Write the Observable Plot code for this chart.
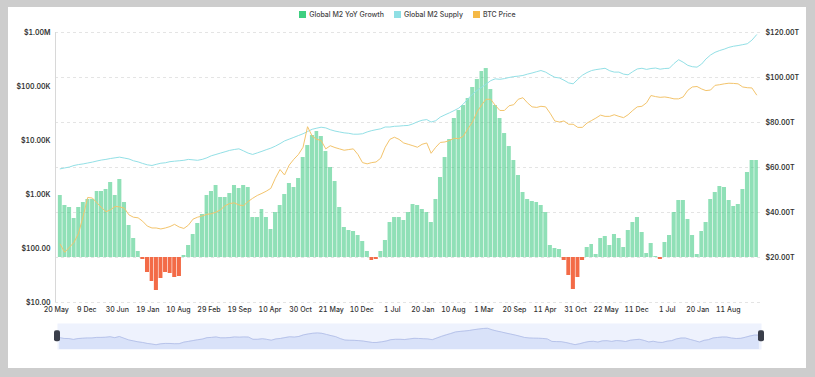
<!DOCTYPE html>
<html><head><meta charset="utf-8">
<script src="https://cdn.jsdelivr.net/npm/d3@7"></script>
<script src="https://cdn.jsdelivr.net/npm/@observablehq/plot@0.6"></script>
<style>
html,body{margin:0;padding:0;background:#cdcdcd;width:815px;height:377px;overflow:hidden;font-family:Inter,"Noto Sans",sans-serif;}
#panel{position:absolute;left:8px;top:7px;width:798px;height:361px;background:#fff;}
#legend{position:absolute;left:0;top:10px;width:815px;display:flex;justify-content:center;gap:10px;font-size:7px;font-weight:500;color:#444;line-height:9px;}
#legend span.item{display:flex;align-items:center;gap:3px;}
#legend i{display:inline-block;width:7px;height:7px;}
#main{position:absolute;left:0;top:0;}
#slider{position:absolute;left:0;top:320px;}
</style></head>
<body>
<div id="panel"></div>
<div id="legend"></div>
<div id="main"></div>
<div id="slider"></div>
<script>
// ---- data (monthly, Jun 2013 .. Feb 2026) ----
const startMonth = "2013-06-01";
const seriesNames = ["Global M2 YoY Growth", "Global M2 Supply", "BTC Price"];
// Global M2 YoY growth (%)
const growth = [
  6.2,5.2,5.0,3.9,5.0,5.5,5.8,5.8,6.6,6.6,
  6.8,7.5,6.2,7.8,5.5,3.2,1.9,0.6,-0.2,-1.5,
  -2.4,-3.3,-2.1,-1.5,-1.6,-2.0,-1.9,0.2,1.2,2.3,
  3.4,4.3,6.2,6.6,7.2,6.0,6.0,6.4,7.2,6.9,
  7.2,7.0,4.0,4.0,4.8,4.0,2.8,4.5,5.2,6.3,
  7.4,7.0,7.9,10.0,11.2,12.2,12.6,12.1,10.6,9.0,
  7.6,5.0,3.0,2.7,2.6,2.2,1.6,0.6,-0.3,-0.2,
  0.6,1.7,3.5,4.0,4.0,3.7,4.5,5.3,5.2,4.8,
  4.5,3.5,5.8,8.0,10.0,11.8,13.9,14.7,15.2,15.9,
  17.0,17.8,18.6,18.9,16.8,15.2,13.9,12.4,11.1,9.7,
  8.2,6.5,5.8,5.6,5.5,5.2,4.5,1.2,0.9,0.8,
  -0.3,-1.8,-3.2,-2.0,-0.3,1.0,1.3,0.3,1.9,2.1,
  1.2,2.3,1.9,1.0,2.7,3.5,4.0,2.5,0.4,1.4,
  0.1,-0.2,1.5,2.2,4.5,5.7,5.7,3.8,2.2,0.3,
  2.6,3.5,5.8,6.5,7.1,7.0,5.7,5.1,5.3,6.8,
  8.5,9.7,9.7
];
// Global M2 supply (trillion USD)
const m2 = [
  59.4,59.8,60.2,60.9,61.3,61.6,62.0,62.4,62.9,63.3,63.6,64.0,64.3,64.6,
  64.2,63.8,63.0,62.5,61.8,61.2,60.9,
  61.4,61.9,62.1,62.6,62.8,63.0,63.2,63.6,63.4,63.2,63.6,
  64.3,65.2,65.8,66.4,67.0,67.6,68.0,68.3,
  67.4,66.4,65.8,66.5,
  67.2,67.9,68.6,69.5,70.6,71.8,72.6,73.4,74.2,75.0,
  76.0,77.0,77.5,77.9,77.6,
  76.8,76.2,75.8,75.4,75.2,74.8,74.8,75.0,
  75.8,76.4,76.8,77.2,78.0,78.0,78.3,78.4,78.6,78.7,
  79.4,80.3,81.0,81.3,
  80.2,80.8,
  82.4,83.4,84.3,85.3,86.4,88.2,90.5,92.6,94.3,95.7,
  97.0,98.6,99.4,
  99.2,99.5,100.0,100.4,100.6,100.9,101.5,102.0,102.6,103.1,
  102.4,101.2,100.1,99.8,98.8,97.6,97.2,
  99.2,101.0,102.2,103.1,103.5,103.8,104.1,
  103.0,102.4,102.4,101.5,101.2,102.6,103.8,
  104.1,103.6,104.0,104.2,103.7,104.0,104.1,
  106.2,107.9,106.8,105.4,104.8,104.6,
  106.0,108.2,110.0,111.2,112.0,
  112.6,113.4,113.9,114.2,114.6,115.0,116.6,119.0
];
// BTC price (USD)
const btc = [
  120,85,105,130,190,400,880,860,700,580,
  480,520,600,590,560,420,380,370,320,260,
  240,240,230,240,255,280,250,235,270,350,
  380,400,430,440,470,520,620,680,700,640,
  620,740,850,960,1050,1150,1300,2000,2900,2300,
  3500,4500,5500,7500,18000,12000,10500,10000,7000,8000,
  7400,7000,6600,6800,7000,5500,3900,3700,3900,4000,
  4700,7500,10500,11500,10500,9000,8500,8000,7500,8500,
  9000,5800,7500,9200,9400,10000,11000,10800,12000,16500,
  22000,34000,46000,58000,58000,45000,36000,36000,44000,46000,
  58000,62000,50000,42000,41000,43000,42000,32000,23000,22000,
  23000,20000,20000,17500,17500,21000,23500,26000,29500,28000,
  28000,30000,28000,26500,30000,36000,42000,43000,50000,68000,
  65000,63000,64000,62000,59000,59000,64000,85000,98000,100000,
  90000,84000,86000,105000,108000,112000,115000,114000,112000,98000,
  95000,94000,70000
];
// tick values / labels
const xTickDates = ["2013-05-20","2013-12-09","2014-06-30","2015-01-19","2015-08-10","2016-02-29","2016-09-19","2017-04-10","2017-10-30","2018-05-21","2018-12-10","2019-07-01","2020-01-20","2020-08-10","2021-03-01","2021-09-20","2022-04-11","2022-10-31","2023-05-22","2023-12-11","2024-07-01","2025-01-20","2025-08-11"];
const leftTickValues = [10, 100, 1000, 10000, 100000, 1000000];
const leftTickLabels = ["$10.00", "$100.00", "$1.00K", "$10.00K", "$100.00K", "$1.00M"];
const rightTickValues = [20, 40, 60, 80, 100, 120];
const rightTickLabels = ["$20.00T", "$40.00T", "$60.00T", "$80.00T", "$100.00T", "$120.00T"];
const gridValues = [0, 20, 40, 60, 80, 100, 120];

// ---- shared vertical units: right axis (trillions) ----
const py = p => (Math.log10(p) - 1) * 24;      // BTC log axis -> shared units
const gBase = 20;                               // growth zero line
const gy = g => gBase + g * 4.444;              // growth -> shared units

const s0 = new Date(startMonth);
const rows = growth.map((g, i) => {
  const date = d3.utcMonth.offset(s0, i);
  return {date, next: d3.utcMonth.offset(s0, i + 1), mid: d3.utcDay.offset(date, 14), g, m2: m2[i], btc: btc[i]};
});
const xDomain = [new Date("2013-05-15"), new Date("2026-03-13")];

const colors = {growth: "#34c77b", neg: "#f36b47", m2: "#93e0e6", btc: "#f3c46c"};
const legendColors = ["#3ecf80", "#8fdfe4", "#f5b946"];

// legend
const leg = document.getElementById("legend");
seriesNames.forEach((n, i) => {
  const s = document.createElement("span"); s.className = "item";
  s.innerHTML = `<i style="background:${legendColors[i]}"></i>${n}`;
  leg.appendChild(s);
});

const lt = leftTickValues.map(py);
const main = Plot.plot({
  width: 815, height: 320,
  marginLeft: 55, marginRight: 55, marginTop: 32, marginBottom: 18,
  x: {type: "utc", domain: xDomain, axis: null},
  y: {domain: [0, 120], axis: null},
  style: {fontFamily: "Inter, 'Noto Sans', sans-serif", fontSize: "7px", color: "#333", background: "transparent", overflow: "visible"},
  marks: [
    Plot.gridY(gridValues, {stroke: "#e4e4e4", strokeOpacity: 1, strokeDasharray: "3,3"}),
    Plot.ruleX([xDomain[0]], {stroke: "#d8d8d8"}),
    Plot.rect(rows.filter(d => d.g >= 0), {x1: "date", x2: "next", y1: gBase, y2: d => gy(d.g), fill: colors.growth, fillOpacity: 0.55, insetLeft: 0.3, insetRight: 0.3}),
    Plot.rect(rows.filter(d => d.g < 0), {x1: "date", x2: "next", y1: gBase, y2: d => gy(d.g), fill: colors.neg, insetLeft: 0.3, insetRight: 0.3}),
    Plot.line(rows, {x: "mid", y: d => d.m2, stroke: colors.m2, strokeWidth: 1}),
    Plot.line(rows, {x: "mid", y: d => py(d.btc), stroke: colors.btc, strokeWidth: 1}),
    Plot.axisY(lt, {anchor: "left", tickSize: 0, tickPadding: 5, fontWeight: 600, tickFormat: d => leftTickLabels[lt.indexOf(d)]}),
    Plot.axisY(rightTickValues, {anchor: "right", tickSize: 0, tickPadding: 5, fontWeight: 600, tickFormat: d => rightTickLabels[rightTickValues.indexOf(d)]}),
    Plot.axisX(xTickDates.map(d => new Date(d)), {anchor: "bottom", tickSize: 0, tickPadding: 5, fontWeight: 500, tickFormat: d3.utcFormat("%-d %b")})
  ]
});
document.getElementById("main").appendChild(main);

const gExt = d3.extent(growth);
const pad = (gExt[1] - gExt[0]) * 0.29;
const sliderDomain = [rows[0].date, rows[rows.length - 1].next];
const gLo = gExt[0] - pad, gHi = gExt[1] + pad;
const slider = Plot.plot({
  width: 815, height: 32,
  marginLeft: 57, marginRight: 54, marginTop: 3, marginBottom: 3,
  x: {type: "utc", domain: sliderDomain, axis: null},
  y: {domain: [gLo, gHi], axis: null},
  style: {background: "transparent", overflow: "visible"},
  marks: [
    Plot.frame({fill: "#eef2fd", stroke: null}),
    Plot.areaY(rows, {x: "mid", y1: gLo, y2: "g", fill: "#d9e2f9"}),
    Plot.lineY(rows, {x: "mid", y: "g", stroke: "#aebbe6", strokeWidth: 0.8}),
    Plot.rect(sliderDomain, {x1: d => d, x2: d => d, y1: gLo + (gHi - gLo) * 0.3, y2: gLo + (gHi - gLo) * 0.72, insetLeft: -3, insetRight: -3, fill: "#3a3e4a", rx: 2})
  ]
});
document.getElementById("slider").appendChild(slider);
</script>
</body></html>
